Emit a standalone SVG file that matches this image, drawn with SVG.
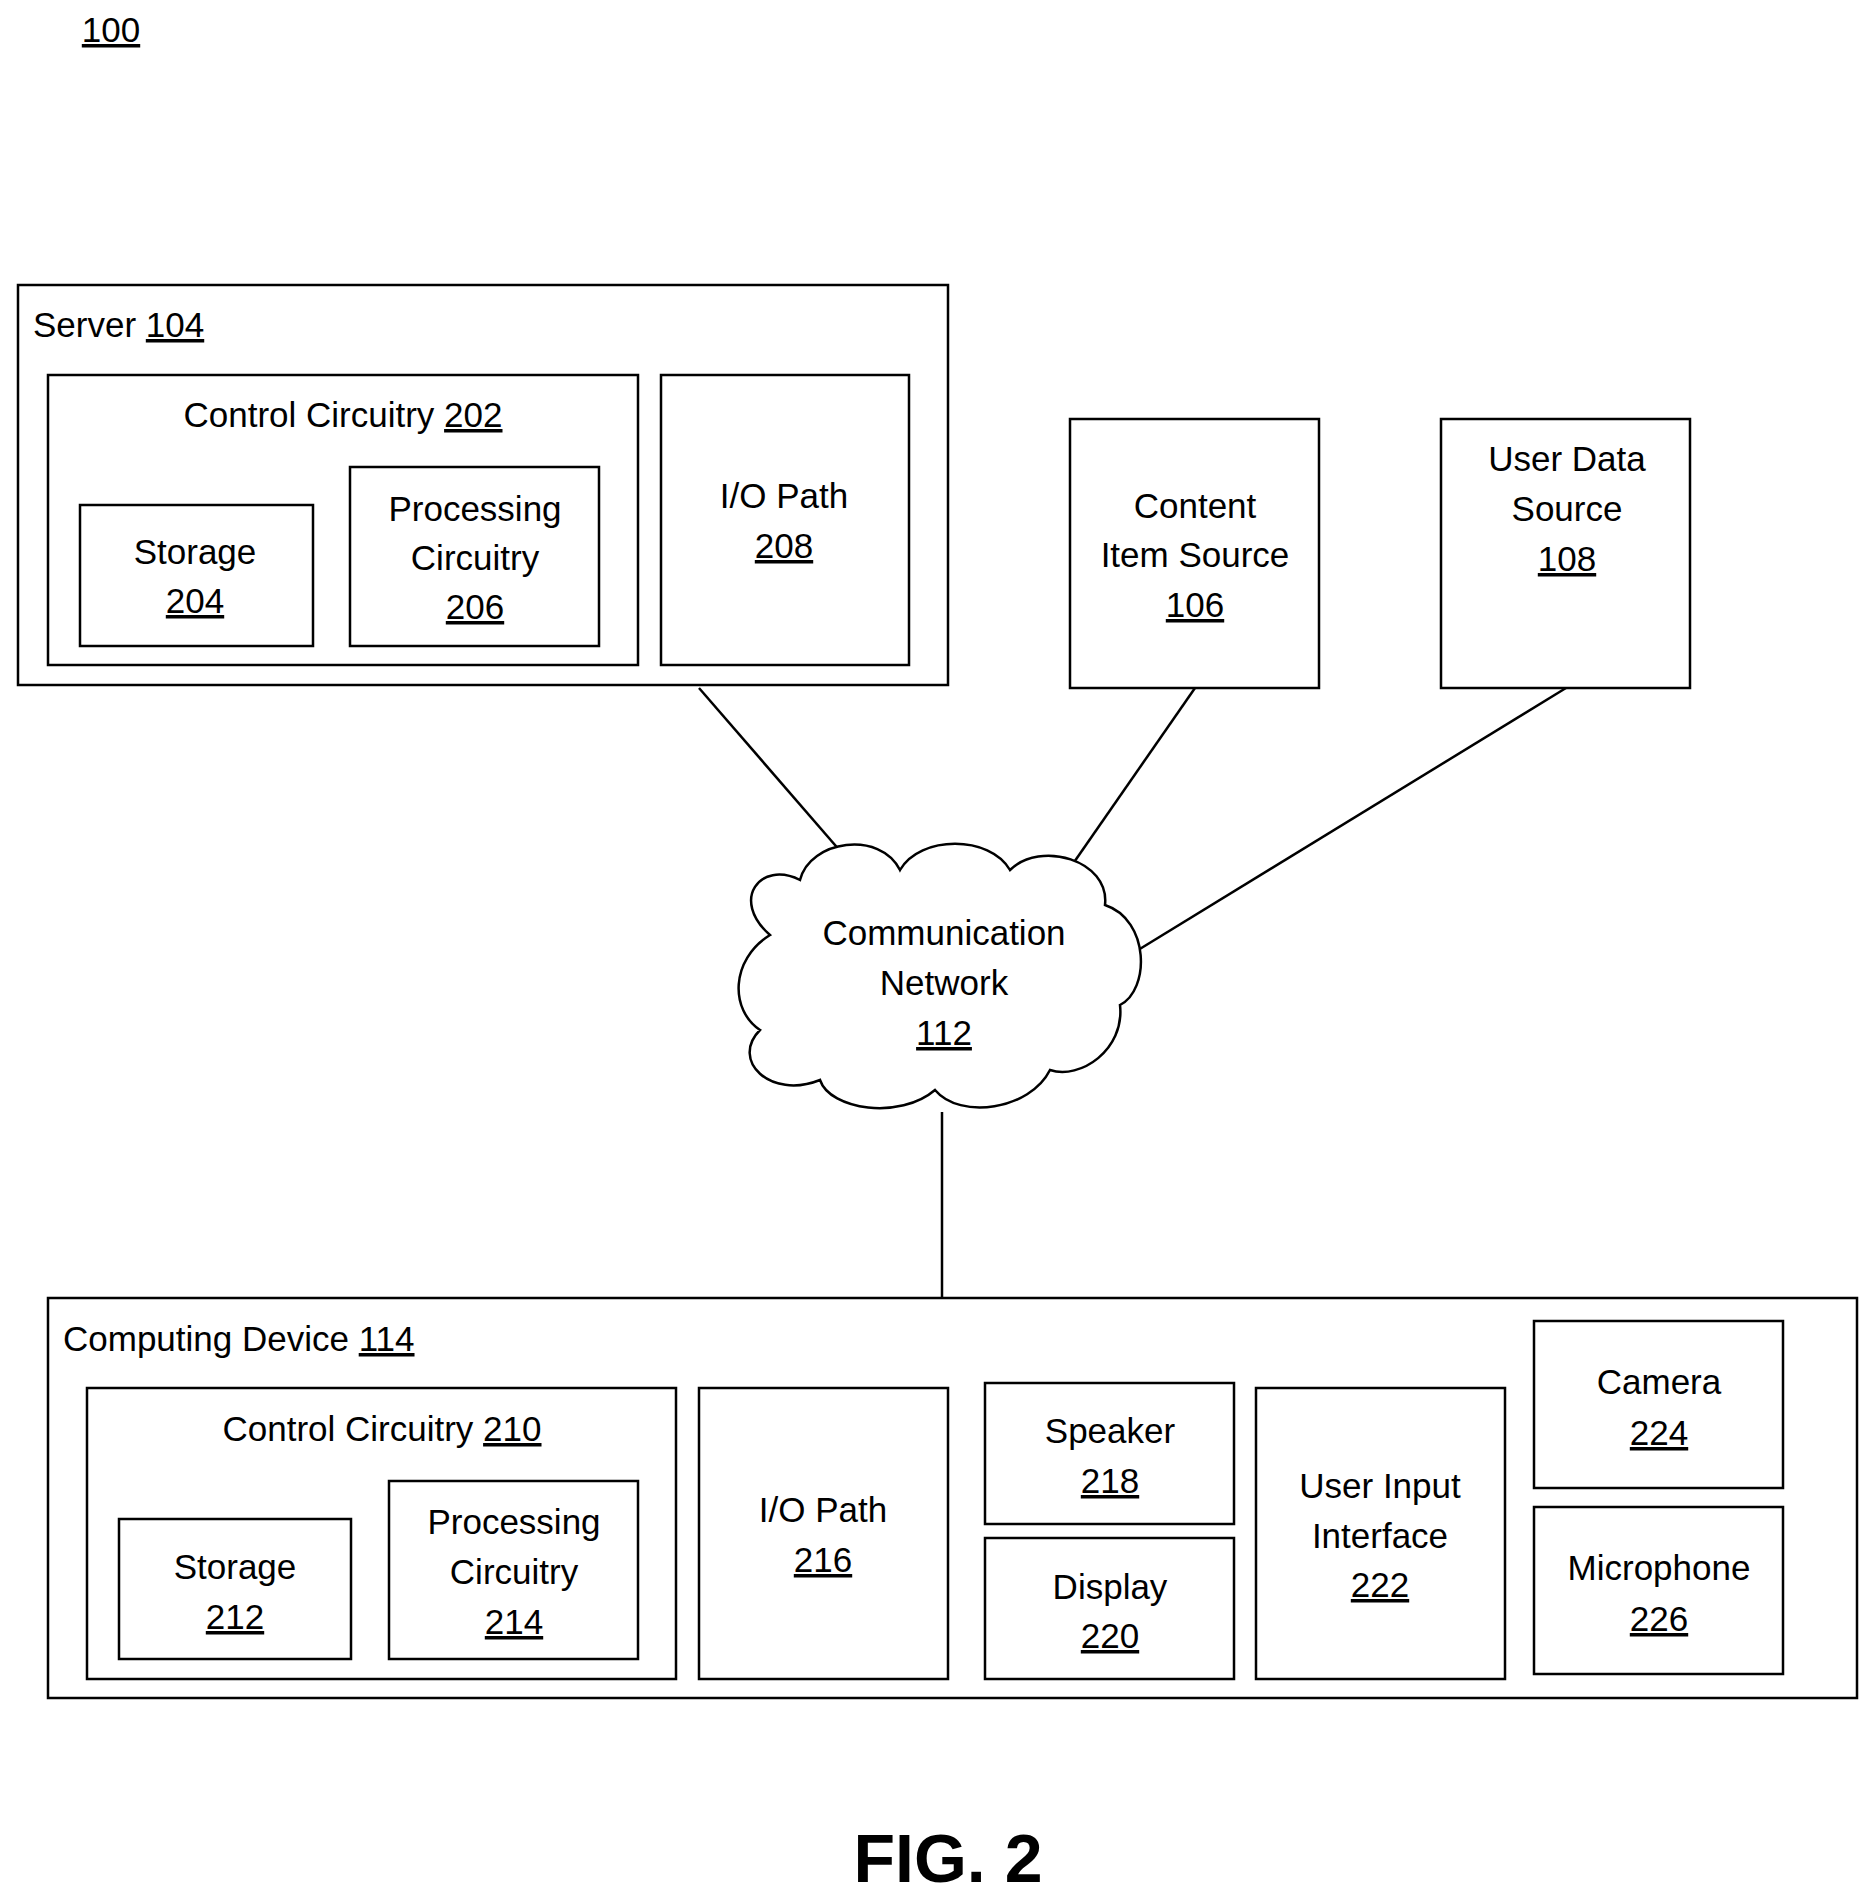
<svg xmlns="http://www.w3.org/2000/svg" width="1875" height="1900" viewBox="0 0 1875 1900">
<style>
rect{fill:#fff;stroke:#000;stroke-width:2.5}
text{font-family:"Liberation Sans",Arial,sans-serif;font-size:35px;fill:#000}
.c{text-anchor:middle}
.u{text-decoration:underline}
line,path{stroke:#000;stroke-width:2.5;fill:none}
</style>
<rect x="0" y="0" width="1875" height="1900" style="stroke:none"/>
<text x="111" y="42" class="c u">100</text>
<g id="connectors">
<line x1="699" y1="688" x2="848" y2="860"/>
<line x1="1195" y1="688" x2="1070" y2="868"/>
<line x1="1566" y1="688" x2="1130" y2="955"/>
<line x1="942" y1="1112" x2="942" y2="1298"/>
</g>
<g id="server104">
<rect x="18" y="285" width="930" height="400"/>
<text x="33" y="337">Server <tspan class="u">104</tspan></text>
</g>
<g id="cc202"><rect x="48" y="375" width="590" height="290"/>
<text x="343" y="427" class="c">Control Circuitry <tspan class="u">202</tspan></text></g>
<g id="st204"><rect x="80" y="505" width="233" height="141"/>
<text x="195" y="564" class="c">Storage</text><text x="195" y="613" class="c u">204</text></g>
<g id="pc206"><rect x="350" y="467" width="249" height="179"/>
<text x="475" y="521" class="c">Processing</text><text x="475" y="570" class="c">Circuitry</text><text x="475" y="619" class="c u">206</text></g>
<g id="io208"><rect x="661" y="375" width="248" height="290"/>
<text x="784" y="508" class="c">I/O Path</text><text x="784" y="558" class="c u">208</text></g>
<g id="cis106"><rect x="1070" y="419" width="249" height="269"/>
<text x="1195" y="518" class="c">Content</text><text x="1195" y="567" class="c">Item Source</text><text x="1195" y="617" class="c u">106</text></g>
<g id="uds108"><rect x="1441" y="419" width="249" height="269"/>
<text x="1567" y="471" class="c">User Data</text><text x="1567" y="521" class="c">Source</text><text x="1567" y="571" class="c u">108</text></g>
<g id="net112">
<path style="fill:#fff" d="M 770 935 C 730 900, 760 860, 800 880 C 810 840, 880 830, 900 870 C 920 835, 990 835, 1010 870 C 1040 840, 1110 860, 1105 905 C 1150 920, 1150 990, 1120 1005 C 1125 1050, 1080 1080, 1050 1070 C 1030 1110, 960 1120, 935 1090 C 900 1120, 830 1110, 820 1080 C 770 1100, 730 1060, 760 1030 C 730 1010, 730 960, 770 935 Z"/>
<text x="944" y="945" class="c">Communication</text><text x="944" y="995" class="c">Network</text><text x="944" y="1045" class="c u">112</text></g>
<g id="cd114"><rect x="48" y="1298" width="1809" height="400"/>
<text x="63" y="1351">Computing Device <tspan class="u">114</tspan></text></g>
<g id="cc210"><rect x="87" y="1388" width="589" height="291"/>
<text x="382" y="1441" class="c">Control Circuitry <tspan class="u">210</tspan></text></g>
<g id="st212"><rect x="119" y="1519" width="232" height="140"/>
<text x="235" y="1579" class="c">Storage</text><text x="235" y="1629" class="c u">212</text></g>
<g id="pc214"><rect x="389" y="1481" width="249" height="178"/>
<text x="514" y="1534" class="c">Processing</text><text x="514" y="1584" class="c">Circuitry</text><text x="514" y="1634" class="c u">214</text></g>
<g id="io216"><rect x="699" y="1388" width="249" height="291"/>
<text x="823" y="1522" class="c">I/O Path</text><text x="823" y="1572" class="c u">216</text></g>
<g id="sp218"><rect x="985" y="1383" width="249" height="141"/>
<text x="1110" y="1443" class="c">Speaker</text><text x="1110" y="1493" class="c u">218</text></g>
<g id="di220"><rect x="985" y="1538" width="249" height="141"/>
<text x="1110" y="1599" class="c">Display</text><text x="1110" y="1648" class="c u">220</text></g>
<g id="ui222"><rect x="1256" y="1388" width="249" height="291"/>
<text x="1380" y="1498" class="c">User Input</text><text x="1380" y="1548" class="c">Interface</text><text x="1380" y="1597" class="c u">222</text></g>
<g id="ca224"><rect x="1534" y="1321" width="249" height="167"/>
<text x="1659" y="1394" class="c">Camera</text><text x="1659" y="1445" class="c u">224</text></g>
<g id="mi226"><rect x="1534" y="1507" width="249" height="167"/>
<text x="1659" y="1580" class="c">Microphone</text><text x="1659" y="1631" class="c u">226</text></g>
<text x="948" y="1882" class="c" style="font-size:68px;font-weight:bold">FIG. 2</text>
</svg>
